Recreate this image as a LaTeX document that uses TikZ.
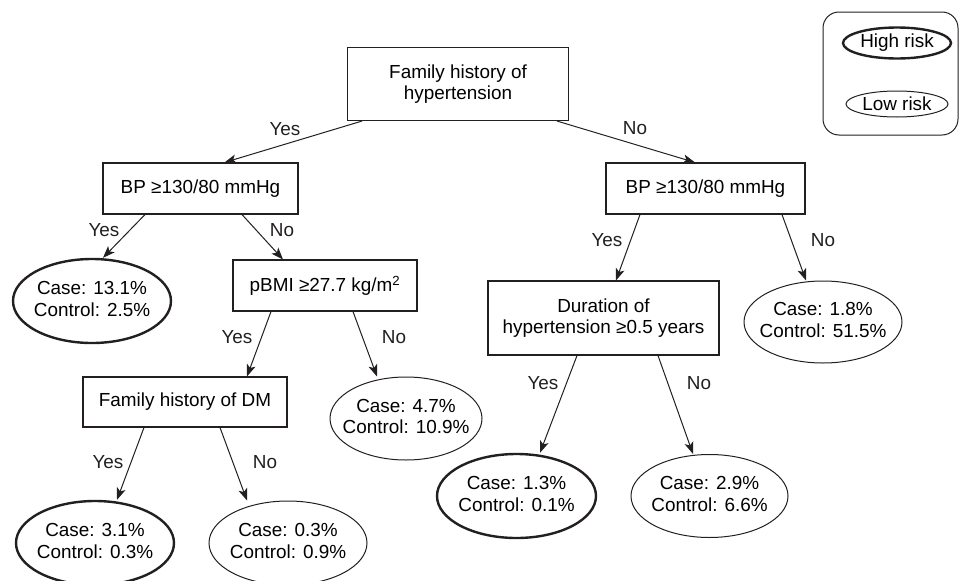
\documentclass[tikz,border=0pt]{standalone}
\usepackage{fontspec}
\setmainfont{Liberation Sans}
\usetikzlibrary{arrows.meta,calc,shapes.geometric}

% Two-line rate text inside the leaf ellipses
\newcommand{\rates}[2]{\makebox[0pt]{\begin{tabular}{@{}c@{}}Case: #1\%\\Control: #2\%\end{tabular}}}

\begin{document}
\begin{tikzpicture}[x=1pt, y=-1pt,
    font=\fontsize{18.9}{21.5}\selectfont,
    splitbox/.style={draw=linecolor, line width=1.1pt, rectangle, align=center, inner sep=0pt},
    riskhigh/.style={draw=linecolor, ellipse, line width=2.4pt, inner sep=0pt},
    risklow/.style={draw=linecolor, ellipse, line width=1pt, inner sep=0pt},
    branch/.style={draw=linecolor, line width=1pt, -{Stealth[length=12pt, width=9pt, inset=3pt]}},
    answer/.style={inner sep=0pt, text=linecolor}]
    % Define colors
    \definecolor{linecolor}{RGB}{35, 31, 32}

    % Fix the picture size
    \useasboundingbox (0, 0) rectangle (959, 581);

    % Legend
    \node[draw=linecolor, line width=1pt, rounded corners=16pt, minimum width=135pt, minimum height=123pt] (legend) at (890.5, 73.5) {};
    \node[riskhigh, minimum width=108pt, minimum height=31pt] (hi) at (897, 43) {\makebox[0pt]{High risk}};
    \node[risklow, minimum width=102pt, minimum height=26pt] (lo) at (897, 104) {\makebox[0pt]{Low risk}};

    % Split nodes
    \node[splitbox, minimum width=221pt, minimum height=73pt] (top) at (458, 84) {Family history of\\hypertension};
    \node[splitbox, minimum width=195pt, minimum height=51pt] (bpL) at (200.5, 188.5) {BP ≥130/80 mmHg};
    \node[splitbox, minimum width=199pt, minimum height=51pt] (bpR) at (705.5, 188.5) {BP ≥130/80 mmHg};
    \node[splitbox, minimum width=184pt, minimum height=51pt] (pbmi) at (325, 285.5) {pBMI ≥27.7 kg/m\textsuperscript{2}};
    \node[splitbox, minimum width=204pt, minimum height=50pt] (fhdm) at (185, 402) {Family history of DM};
    \node[splitbox, minimum width=231pt, minimum height=74pt] (dur) at (603.5, 318) {Duration of\\hypertension ≥0.5 years};

    % Leaf nodes
    \node[riskhigh, minimum width=158pt, minimum height=84pt] (e1) at (92, 301) {\rates{13.1}{2.5}};
    \node[risklow, minimum width=152pt, minimum height=83pt] (e2) at (406, 418.5) {\rates{4.7}{10.9}};
    \node[riskhigh, minimum width=158pt, minimum height=84pt] (e3) at (95, 543) {\rates{3.1}{0.3}};
    \node[risklow, minimum width=158pt, minimum height=84pt] (e4) at (288, 543) {\rates{0.3}{0.9}};
    \node[risklow, minimum width=158pt, minimum height=82pt] (e5) at (823, 322) {\rates{1.8}{51.5}};
    \node[riskhigh, minimum width=159pt, minimum height=84pt] (e6) at (516.5, 496) {\rates{1.3}{0.1}};
    \node[risklow, minimum width=157pt, minimum height=83pt] (e7) at (709.5, 496) {\rates{2.9}{6.6}};

    % Branches
    \draw[branch] ($(top.south)+(-96, 0)$) -- ($(bpL.north)+(24, 0)$);
    \draw[branch] ($(top.south)+(99, 0)$) -- ($(bpR.north)+(-10.5, 0)$);
    \draw[branch] ($(bpL.south)+(-55.5, 0)$) -- ($(e1.north)+(11, 0)$);
    \draw[branch] ($(bpL.south)+(41.5, 0)$) -- ($(pbmi.north)+(-42, 0)$);
    \draw[branch] ($(pbmi.south)+(-54, 0)$) -- ($(fhdm.north)+(62, 0)$);
    \draw[branch] ($(pbmi.south)+(28, 0)$) -- ($(e2.north)+(-29, 0)$);
    \draw[branch] ($(fhdm.south)+(-41, 0)$) -- ($(e3.north)+(22, 0)$);
    \draw[branch] ($(fhdm.south)+(35, 0)$) -- ($(e4.north)+(-41, 0)$);
    \draw[branch] ($(bpR.south)+(-65.5, 0)$) -- ($(dur.north)+(12.5, 0)$);
    \draw[branch] ($(bpR.south)+(76.5, 0)$) -- ($(e5.north)+(-17, 0)$);
    \draw[branch] ($(dur.south)+(-26.5, 0)$) -- ($(e6.north)+(23.5, 0)$);
    \draw[branch] ($(dur.south)+(54.5, 0)$) -- ($(e7.north)+(-16.5, 0)$);

    % Add branch answers
    \node[answer] (topYes) at (285, 129) {Yes};
    \node[answer] (topNo) at (635, 128) {No};
    \node[answer] (bpLYes) at (104, 230) {Yes};
    \node[answer] (bpLNo) at (282, 230) {No};
    \node[answer] (pbmiYes) at (237, 337) {Yes};
    \node[answer] (pbmiNo) at (394, 337) {No};
    \node[answer] (fhdmYes) at (108, 462) {Yes};
    \node[answer] (fhdmNo) at (265, 462) {No};
    \node[answer] (bpRYes) at (607, 240) {Yes};
    \node[answer] (bpRNo) at (823, 240) {No};
    \node[answer] (durYes) at (543, 383) {Yes};
    \node[answer] (durNo) at (699, 383) {No};

\end{tikzpicture}
\end{document}
